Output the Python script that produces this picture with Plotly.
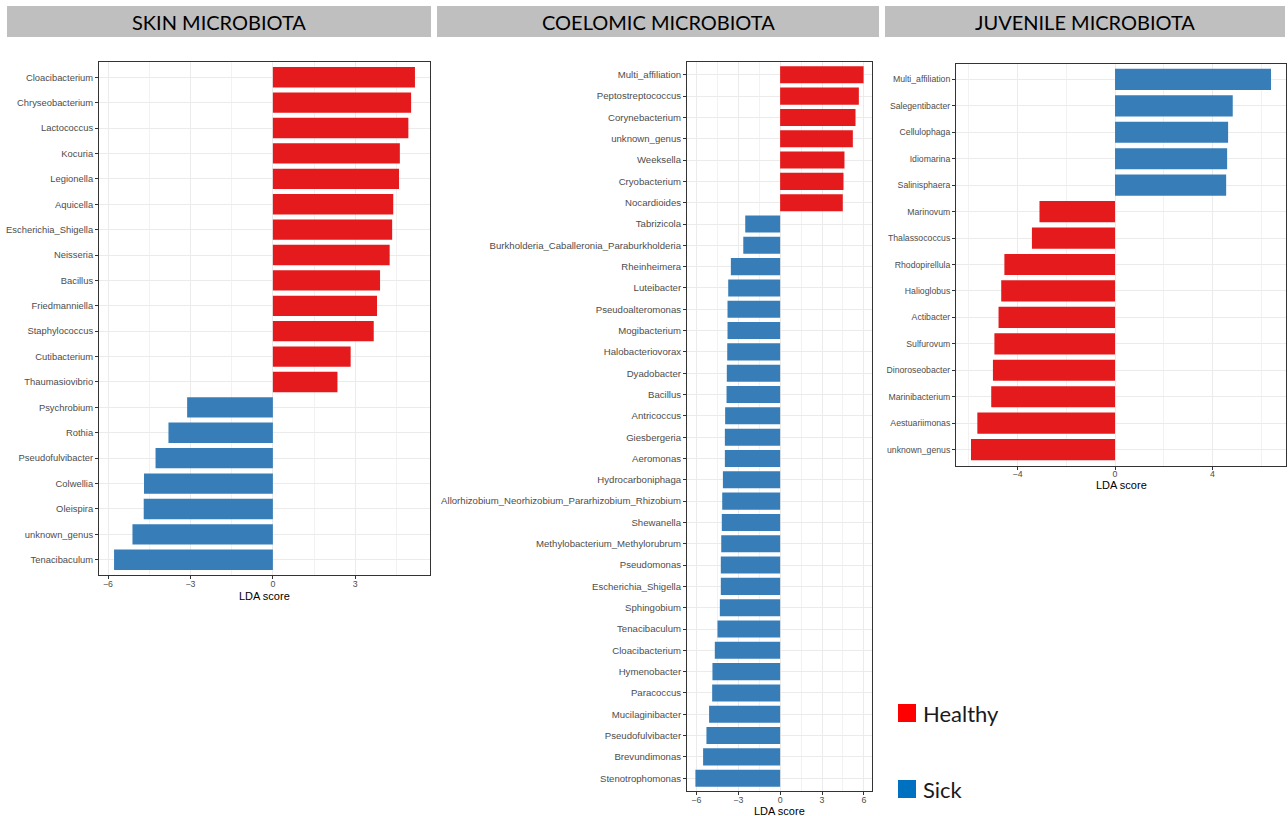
import plotly.graph_objects as go

W, H = 1288, 816

# ---------------- data ----------------
skin_taxa = ["Cloacibacterium", "Chryseobacterium", "Lactococcus", "Kocuria", "Legionella",
             "Aquicella", "Escherichia_Shigella", "Neisseria", "Bacillus", "Friedmanniella",
             "Staphylococcus", "Cutibacterium", "Thaumasiovibrio", "Psychrobium", "Rothia",
             "Pseudofulvibacter", "Colwellia", "Oleispira", "unknown_genus", "Tenacibaculum"]
skin_lda = [5.17, 5.03, 4.93, 4.62, 4.59, 4.38, 4.34, 4.25, 3.90, 3.79, 3.67, 2.83, 2.35,
            -3.12, -3.80, -4.27, -4.69, -4.70, -5.11, -5.78]
skin_group = ["Healthy"] * 13 + ["Sick"] * 7

coel_taxa = ["Multi_affiliation", "Peptostreptococcus", "Corynebacterium", "unknown_genus",
             "Weeksella", "Cryobacterium", "Nocardioides", "Tabrizicola",
             "Burkholderia_Caballeronia_Paraburkholderia", "Rheinheimera", "Luteibacter",
             "Pseudoalteromonas", "Mogibacterium", "Halobacteriovorax", "Dyadobacter", "Bacillus",
             "Antricoccus", "Giesbergeria", "Aeromonas", "Hydrocarboniphaga",
             "Allorhizobium_Neorhizobium_Pararhizobium_Rhizobium", "Shewanella",
             "Methylobacterium_Methylorubrum", "Pseudomonas", "Escherichia_Shigella",
             "Sphingobium", "Tenacibaculum", "Cloacibacterium", "Hymenobacter", "Paracoccus",
             "Mucilaginibacter", "Pseudofulvibacter", "Brevundimonas", "Stenotrophomonas"]
coel_lda = [5.98, 5.64, 5.40, 5.21, 4.61, 4.54, 4.49, -2.50, -2.64, -3.53, -3.72, -3.77,
            -3.77, -3.79, -3.82, -3.84, -3.94, -3.96, -3.96, -4.10, -4.15, -4.18, -4.22, -4.25,
            -4.25, -4.32, -4.49, -4.68, -4.85, -4.87, -5.09, -5.28, -5.52, -6.07]
coel_group = ["Healthy"] * 7 + ["Sick"] * 27

juv_taxa = ["Multi_affiliation", "Salegentibacter", "Cellulophaga", "Idiomarina", "Salinisphaera",
            "Marinovum", "Thalassococcus", "Rhodopirellula", "Halioglobus", "Actibacter",
            "Sulfurovum", "Dinoroseobacter", "Marinibacterium", "Aestuariimonas", "unknown_genus"]
juv_lda = [6.40, 4.83, 4.64, 4.60, 4.56, -3.10, -3.41, -4.54, -4.67, -4.78, -4.95, -5.01,
           -5.08, -5.65, -5.91]
juv_group = ["Sick"] * 5 + ["Healthy"] * 10

panel_titles = ["SKIN MICROBIOTA", "COELOMIC MICROBIOTA", "JUVENILE MICROBIOTA"]
legend_labels = ["Healthy", "Sick"]
axis_title = "LDA score"

# ---------------- styles ----------------
bar_colors = {"Healthy": "#e41a1c", "Sick": "#377eb8"}
legend_colors = {"Healthy": "#ff0000", "Sick": "#0070c0"}
LABEL_FONT = "Liberation Sans, Arial, sans-serif"
HEAD_FONT = "Lato, Open Sans, sans-serif"

# panel geometry in pixels: (left, right, top, bottom), axis-title centre y
panels = [
    dict(taxa=skin_taxa, lda=skin_lda, grp=skin_group, box=(99, 430, 62, 575), dt=3, fs=9.4, ty=596),
    dict(taxa=coel_taxa, lda=coel_lda, grp=coel_group, box=(687, 872, 62, 791), dt=3, fs=9.6, ty=810.5),
    dict(taxa=juv_taxa, lda=juv_lda, grp=juv_group, box=(956, 1286, 63.5, 465.5), dt=4, fs=8.7, ty=485),
]
headers = [(7, 431), (437, 879), (885, 1285)]

fig = go.Figure()
layout = dict()
annotations = []
for i, p in enumerate(panels, start=1):
    xa = "x" if i == 1 else f"x{i}"
    ya = "y" if i == 1 else f"y{i}"
    fig.add_trace(go.Bar(
        x=p["lda"], y=p["taxa"], orientation="h",
        marker=dict(color=[bar_colors[g] for g in p["grp"]], line=dict(width=0)),
        width=0.8, xaxis=xa, yaxis=ya, showlegend=False,
        hovertemplate="%{y}: %{x}<extra></extra>",
    ))
    lo = min(min(p["lda"]), 0)
    hi = max(max(p["lda"]), 0)
    span = hi - lo
    xr = [lo - 0.05 * span, hi + 0.05 * span]
    l, r, t, b = p["box"]
    n = len(p["taxa"])
    layout[f"xaxis{'' if i == 1 else i}"] = dict(
        domain=[l / W, r / W], anchor=ya, range=xr,
        tick0=0, dtick=p["dt"], ticks="outside", ticklen=3, tickcolor="#333333",
        tickfont=dict(size=8.8, color="#4d4d4d", family=LABEL_FONT),
        ticklabelstandoff=-3,
        showgrid=True, gridcolor="#ebebeb", gridwidth=1, zeroline=False,
        minor=dict(tick0=0, dtick=p["dt"] / 2, showgrid=True, gridcolor="#f2f2f2", gridwidth=1),
        showline=True, linecolor="#333333", linewidth=1, mirror=True,
        fixedrange=True,
    )
    layout[f"yaxis{'' if i == 1 else i}"] = dict(
        domain=[1 - b / H, 1 - t / H], anchor=xa, type="category",
        categoryorder="array", categoryarray=list(reversed(p["taxa"])),
        range=[-0.6, n - 0.4],
        ticks="outside", ticklen=3, tickcolor="#333333",
        tickfont=dict(size=p["fs"], color="#4d4d4d", family=LABEL_FONT),
        showgrid=True, gridcolor="#ebebeb", gridwidth=1, zeroline=False,
        showline=True, linecolor="#333333", linewidth=1, mirror=True,
        fixedrange=True,
    )
    # x-axis title, centred under the panel
    annotations.append(dict(text=axis_title, xref=f"{xa} domain", yref="paper",
                            x=0.5, y=1 - p["ty"] / H, xanchor="center", yanchor="middle",
                            showarrow=False,
                            font=dict(size=11, color="#000000", family=LABEL_FONT)))

shapes = []
for (hl, hr), title in zip(headers, panel_titles):
    shapes.append(dict(type="rect", xref="paper", yref="paper",
                       x0=hl / W, x1=hr / W, y0=1 - 37 / H, y1=1 - 6 / H,
                       fillcolor="#bfbfbf", line=dict(width=0), layer="below"))
    annotations.append(dict(text=title, xref="paper", yref="paper",
                            x=(hl + hr) / 2 / W, y=1 - 22 / H, xanchor="center", yanchor="middle",
                            showarrow=False, font=dict(size=20, color="#000000", family=HEAD_FONT)))

legend_y = [713, 789]
for lab, yc in zip(legend_labels, legend_y):
    shapes.append(dict(type="rect", xref="paper", yref="paper",
                       x0=898 / W, x1=916 / W, y0=1 - (yc + 9) / H, y1=1 - (yc - 9) / H,
                       fillcolor=legend_colors[lab], line=dict(width=0)))
    annotations.append(dict(text=lab, xref="paper", yref="paper",
                            x=921 / W, y=1 - yc / H, xanchor="left", yanchor="middle",
                            showarrow=False, font=dict(size=22, color="#1a1a1a", family=HEAD_FONT)))

fig.update_layout(
    width=W, height=H, autosize=False,
    margin=dict(l=0, r=0, t=0, b=0),
    paper_bgcolor="#ffffff", plot_bgcolor="#ffffff",
    bargap=0.2, shapes=shapes, annotations=annotations,
    showlegend=False, **layout,
)

fig.write_html("out.html", config={"displayModeBar": False},
               post_script="document.body.style.margin='0';")
